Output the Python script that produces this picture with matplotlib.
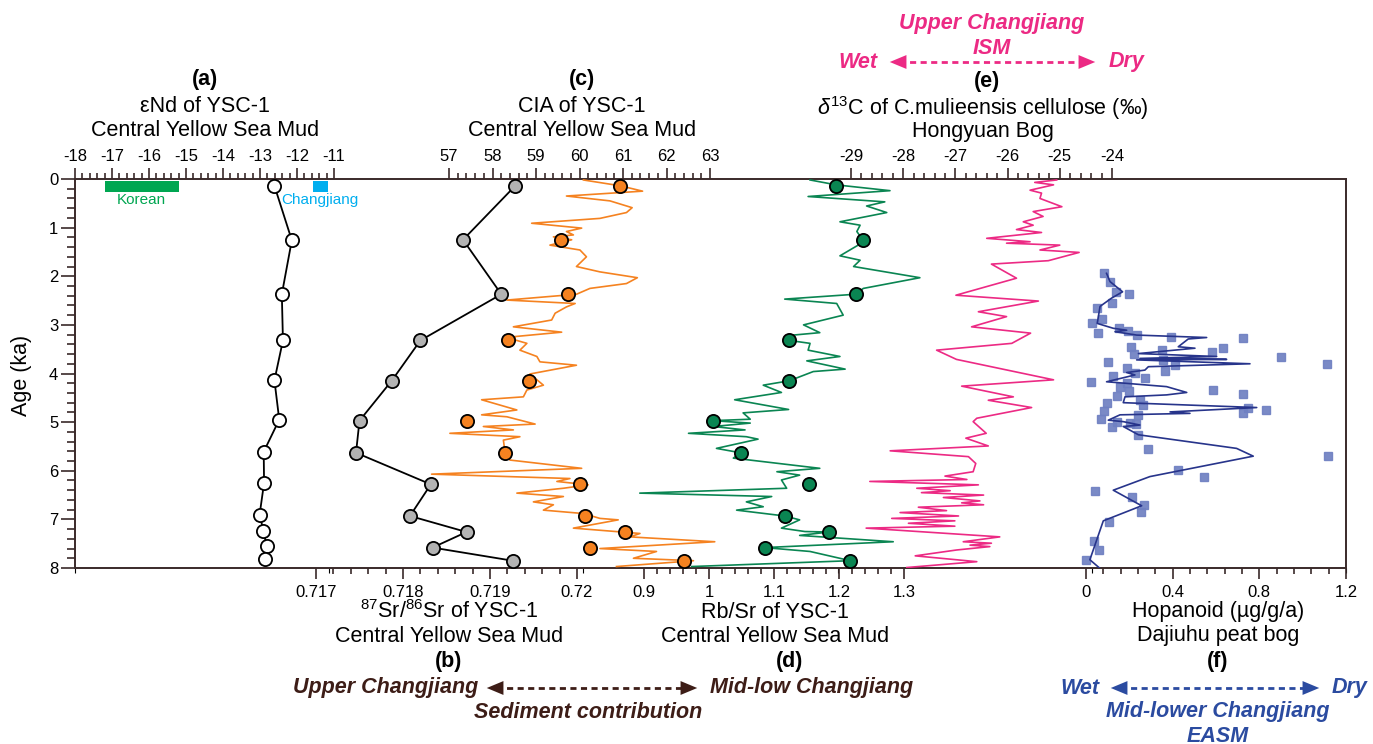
import numpy as np
import matplotlib
matplotlib.use("Agg")
import matplotlib.pyplot as plt
from matplotlib.ticker import FixedLocator
from matplotlib.lines import Line2D
from matplotlib.patches import FancyArrowPatch
from matplotlib import font_manager

# ---------------- data ----------------
# discrete samples of core YSC-1 (age, ka)
sample_age = [0.14, 1.25, 2.37, 3.32, 4.15, 4.97, 5.63, 6.28, 6.93, 7.26, 7.58, 7.85]
end_age = [0.14, 1.26, 2.37, 3.32, 4.14, 4.95, 5.61, 6.25, 6.90, 7.23, 7.55, 7.81]
end_nd = [-12.61, -12.14, -12.41, -12.38, -12.61, -12.48, -12.90, -12.89, -13.01, -12.91, -12.82, -12.86]
sr_ratio = [0.71929, 0.71869, 0.71913, 0.71820, 0.71787, 0.71750, 0.71746, 0.71832, 0.71808, 0.71873, 0.71834, 0.71926]
cia_disc = [60.94, 59.57, 59.74, 58.36, 58.84, 57.42, 58.29, 60.00, 60.13, 61.05, 60.24, 62.41]
rbsr_disc = [1.195, 1.236, 1.225, 1.123, 1.123, 1.005, 1.048, 1.153, 1.116, 1.184, 1.085, 1.217]

# source end-member ranges of eNd
korean_range = [-17.2, -15.2]
changjiang_range = [-11.57, -11.17]

# high-resolution CIA record
cia_age = [0.02, 0.14, 0.25, 0.35, 0.45, 0.59, 0.69, 0.81, 0.91, 1.01, 1.08, 1.15, 1.19, 1.25, 1.36,
           1.46, 1.60, 1.80, 1.91, 2.03, 2.15, 2.25, 2.37, 2.49, 2.56, 2.63, 2.76, 2.90, 3.04, 3.15,
           3.24, 3.31, 3.38, 3.52, 3.65, 3.76, 3.83, 4.01, 4.24, 4.34, 4.48, 4.54, 4.75, 4.85, 4.89,
           5.04, 5.09, 5.16, 5.23, 5.30, 5.37, 5.63, 5.78, 5.95, 6.07, 6.16, 6.22, 6.29, 6.36, 6.46,
           6.53, 6.64, 6.70, 6.81, 6.88, 6.98, 7.01, 7.18, 7.29, 7.36, 7.46, 7.60, 7.66, 7.80, 7.85, 7.97]
cia_val = [60.09, 60.94, 61.45, 59.70, 60.70, 61.21, 61.08, 60.47, 58.90, 60.05, 59.70, 59.86, 59.40, 59.82, 59.32,
           60.01, 60.16, 59.93, 60.47, 61.33, 61.08, 60.24, 59.93, 58.33, 59.90, 59.70, 59.44, 59.36, 58.48, 59.59,
           58.52, 58.52, 58.79, 58.63, 59.02, 59.09, 59.93, 58.86, 59.17, 58.79, 58.71, 57.75, 58.56, 57.75, 58.33,
           58.98, 57.79, 58.48, 57.02, 58.63, 58.25, 58.29, 58.40, 60.05, 56.60, 59.78, 59.48, 60.20, 59.63, 58.56,
           59.63, 58.94, 59.40, 59.17, 60.09, 60.47, 60.89, 59.86, 61.39, 61.16, 63.11, 60.47, 61.77, 61.24, 62.62, 60.85]

# high-resolution Rb/Sr record
rbsr_age = [0.02, 0.12, 0.24, 0.36, 0.47, 0.555, 0.69, 0.88, 0.95, 1.08, 1.25, 1.36, 1.58, 1.67, 1.80,
            2.03, 2.25, 2.37, 2.47, 2.56, 2.80, 3.00, 3.16, 3.21, 3.32, 3.38, 3.52, 3.65, 3.74, 3.91,
            3.96, 4.15, 4.24, 4.39, 4.54, 4.74, 4.81, 4.94, 4.97, 5.02, 5.09, 5.16, 5.23, 5.30, 5.35,
            5.54, 5.63, 5.74, 5.95, 6.02, 6.09, 6.19, 6.36, 6.46, 6.53, 6.64, 6.74, 6.81, 6.93, 7.01,
            7.18, 7.25, 7.26, 7.33, 7.46, 7.58, 7.66, 7.85, 7.97]
rbsr_val = [1.155, 1.195, 1.278, 1.152, 1.270, 1.242, 1.273, 1.201, 1.232, 1.227, 1.236, 1.229, 1.201, 1.232, 1.222,
            1.324, 1.237, 1.225, 1.116, 1.196, 1.206, 1.145, 1.170, 1.129, 1.123, 1.155, 1.152, 1.201, 1.150, 1.209,
            1.160, 1.123, 1.083, 1.111, 1.039, 1.122, 1.052, 1.063, 1.005, 1.063, 1.006, 1.055, 0.968, 1.057, 1.075,
            1.011, 1.048, 1.037, 1.170, 1.104, 1.139, 1.111, 1.119, 0.893, 1.096, 1.057, 1.083, 1.042, 1.116, 1.139,
            1.111, 1.147, 1.184, 1.139, 1.283, 1.085, 1.155, 1.217, 0.973]

# d13C of C. mulieensis cellulose, Hongyuan bog
d13c_age = [0.02, 0.07, 0.12, 0.23, 0.29, 0.40, 0.57, 0.67, 0.77, 0.88, 0.95, 1.04, 1.10, 1.22, 1.29,
            1.32, 1.36, 1.46, 1.51, 1.68, 1.75, 2.04, 2.39, 2.51, 2.73, 2.83, 3.04, 3.17, 3.38, 3.52,
            3.71, 4.13, 4.26, 4.48, 4.55, 4.70, 4.92, 4.99, 5.23, 5.33, 5.49, 5.59, 5.71, 5.85, 6.02,
            6.11, 6.18, 6.22, 6.29, 6.36, 6.41, 6.45, 6.50, 6.55, 6.62, 6.66, 6.70, 6.75, 6.82, 6.86,
            6.93, 6.98, 7.03, 7.08, 7.14, 7.18, 7.36, 7.46, 7.49, 7.53, 7.56, 7.63, 7.75, 7.87, 7.99]
d13c_val = [-25.06, -25.48, -25.12, -25.57, -25.35, -25.38, -24.96, -25.51, -25.32, -25.70, -25.51, -25.83, -25.35, -26.40, -25.57,
            -26.02, -25.00, -25.38, -24.63, -25.22, -26.31, -25.83, -26.99, -25.41, -26.56, -26.02, -26.69, -25.56, -25.92, -27.36,
            -26.98, -25.12, -26.88, -25.89, -26.37, -25.54, -26.59, -26.66, -26.41, -26.80, -26.37, -28.25, -26.75, -26.61, -26.66,
            -27.20, -26.78, -28.64, -26.56, -27.74, -27.10, -27.65, -26.46, -27.23, -26.53, -26.88, -26.46, -27.71, -27.17, -28.06,
            -26.94, -28.22, -27.01, -27.90, -27.01, -28.71, -26.15, -26.85, -26.31, -26.72, -26.34, -26.98, -27.77, -26.59, -27.93]

# Hopanoid flux, Dajiuhu peat bog (smoothed line)
hop_line_age = [1.94, 2.11, 2.32, 2.45, 2.62, 2.97, 3.07, 3.11, 3.14, 3.21, 3.26, 3.29, 3.45, 3.48, 3.59,
                3.65, 3.69, 3.71, 3.72, 3.80, 3.86, 3.93, 3.98, 4.03, 4.17, 4.20, 4.27, 4.39, 4.44, 4.48,
                4.60, 4.70, 4.79, 4.82, 4.85, 4.96, 4.99, 5.06, 5.09, 5.26, 5.54, 5.70, 6.12, 6.40, 6.72,
                7.03, 7.83, 8.01]
hop_line_val = [0.095, 0.111, 0.169, 0.118, 0.065, 0.052, 0.126, 0.188, 0.134, 0.234, 0.557, 0.472, 0.426, 0.503, 0.242,
                0.603, 0.249, 0.649, 0.234, 0.757, 0.288, 0.272, 0.188, 0.226, 0.095, 0.180, 0.372, 0.465, 0.372, 0.180,
                0.172, 0.788, 0.388, 0.480, 0.157, 0.103, 0.172, 0.249, 0.172, 0.242, 0.695, 0.772, 0.295, 0.126, 0.257,
                0.080, 0.018, 0.065]
# Hopanoid flux, individual samples
hop_pt_age = [1.94, 2.11, 2.32, 2.37, 2.54, 2.65, 2.87, 2.97, 3.16, 3.07, 3.12, 3.21, 3.24, 3.28, 3.45,
              3.52, 3.60, 3.55, 3.48, 3.76, 3.72, 3.82, 3.94, 3.67, 3.80, 3.89, 4.00, 4.05, 4.10, 4.17,
              4.20, 4.27, 4.37, 4.33, 4.43, 4.46, 4.60, 4.55, 4.65, 4.70, 4.76, 4.82, 4.78, 4.85, 4.94,
              4.99, 5.01, 5.04, 5.11, 5.26, 5.55, 5.69, 5.98, 6.12, 6.41, 6.55, 6.70, 6.84, 7.05, 7.44,
              7.64, 7.84]
hop_pt_val = [0.085, 0.111, 0.138, 0.200, 0.118, 0.049, 0.075, 0.026, 0.057, 0.154, 0.195, 0.234, 0.391, 0.726, 0.206,
              0.349, 0.222, 0.580, 0.634, 0.100, 0.357, 0.411, 0.365, 0.898, 1.111, 0.188, 0.226, 0.123, 0.272, 0.022,
              0.188, 0.157, 0.200, 0.585, 0.726, 0.145, 0.095, 0.249, 0.262, 0.749, 0.829, 0.723, 0.085, 0.242, 0.069,
              0.142, 0.203, 0.231, 0.118, 0.238, 0.285, 1.115, 0.423, 0.546, 0.042, 0.211, 0.269, 0.254, 0.105, 0.037,
              0.058, 0.000]

# tick labels
age_ticks = [0, 1, 2, 3, 4, 5, 6, 7, 8]
nd_ticks = [-18, -17, -16, -15, -14, -13, -12, -11]
cia_ticks = [57, 58, 59, 60, 61, 62, 63]
d13c_ticks = [-29, -28, -27, -26, -25, -24]
sr_ticks = [0.717, 0.718, 0.719, 0.720]
sr_labels = ["0.717", "0.718", "0.719", "0.72"]
rbsr_ticks = [0.9, 1.0, 1.1, 1.2, 1.3]
rbsr_labels = ["0.9", "1", "1.1", "1.2", "1.3"]
hop_ticks = [0, 0.4, 0.8, 1.2]
hop_labels = ["0", "0.4", "0.8", "1.2"]

# ---------------- style ----------------
avail = {f.name for f in font_manager.fontManager.ttflist}
if 'Liberation Sans Narrow' in avail:
    TFAM = ['Liberation Sans Narrow', 'Liberation Sans', 'DejaVu Sans']
    TSIZE = 18
else:
    TFAM = ['Liberation Sans', 'DejaVu Sans']
    TSIZE = 15.5
plt.rcParams['font.family'] = ['Liberation Sans', 'DejaVu Sans']
plt.rcParams['axes.unicode_minus'] = False
plt.rcParams['mathtext.fontset'] = 'custom'
plt.rcParams['mathtext.rm'] = 'Liberation Sans'
plt.rcParams['mathtext.it'] = 'Liberation Sans:italic'
plt.rcParams['mathtext.bf'] = 'Liberation Sans:bold'

FRAME = '#3a2a2a'
ORANGE = '#f58220'
GREEN = '#0a8552'
PINK = '#ec2a84'
NAVY = '#27348b'
SQUARE = '#6f80c2'
BROWN = '#3d1d17'
BLUE = '#2b4ba0'
KOREAN = '#00a651'
CJ = '#00aeef'
LW = 1.2

W, H = 1373, 744
fig = plt.figure(figsize=(W / 100, H / 100), dpi=100)
L, R, T, B = 75, 1346, 179, 568
ax = fig.add_axes([L / W, 1 - B / H, (R - L) / W, (B - T) / H])
ax.set_ylim(8, 0)
ax.set_xlim(0, 1)
ax.set_yticks(age_ticks)
ax.yaxis.set_minor_locator(FixedLocator(np.arange(0, 8.01, 0.2)))
ax.tick_params(axis='y', which='major', direction='out', length=10, width=1.2, color=FRAME, labelsize=12, pad=2)
ax.tick_params(axis='y', which='minor', direction='out', length=6, width=1.2, color=FRAME)
ax.tick_params(axis='x', which='both', bottom=False, top=False, labelbottom=False, labeltop=False)
for s in ax.spines.values():
    s.set_color(FRAME)
    s.set_linewidth(1.4)


def make_twin(v0, px0, px_per_unit, side, major, labels, minor_step):
    tw = ax.twiny()
    left = v0 - (px0 - L) / px_per_unit
    tw.set_xlim(left, left + (R - L) / px_per_unit)
    tw.patch.set_visible(False)
    for s in tw.spines.values():
        s.set_visible(False)
    tw.xaxis.set_ticks_position(side)
    tw.xaxis.set_label_position(side)
    tw.set_xticks(major)
    tw.set_xticklabels(labels)
    tw.xaxis.set_minor_locator(FixedLocator(np.arange(major[0], major[-1] + minor_step / 2, minor_step)))
    tw.tick_params(axis='x', which='major', direction='out', length=8, width=1.2, color=FRAME,
                   labelsize=12, pad=3 if side == 'top' else 4)
    tw.tick_params(axis='x', which='minor', direction='out', length=4.5, width=1.2, color=FRAME)
    return tw


tw_e = make_twin(-29, 851, 52.2, 'top', d13c_ticks, [str(v) for v in d13c_ticks], 0.2)
tw_d = make_twin(0.9, 644.3, 650, 'bottom', rbsr_ticks, rbsr_labels, 0.02)
tw_c = make_twin(57, 449, 43.5, 'top', cia_ticks, [str(v) for v in cia_ticks], 0.2)
tw_b = make_twin(0.717, 316, 87000, 'bottom', sr_ticks, sr_labels, 0.0002)
tw_a = make_twin(-18, 75, 37, 'top', nd_ticks, [str(v) for v in nd_ticks], 0.2)
tw_f = make_twin(0, 1086, 216.7, 'bottom', hop_ticks, hop_labels, 0.08)

CIRC = dict(marker='o', ms=9.5, mec='black', mew=1.3)

# (e) d13C
tw_e.plot(d13c_val, d13c_age, color=PINK, lw=LW)
# (d) Rb/Sr
tw_d.plot(rbsr_val, rbsr_age, color=GREEN, lw=LW)
tw_d.plot(rbsr_disc, sample_age, ls='none', mfc=GREEN, zorder=5, **CIRC)
# (c) CIA
tw_c.plot(cia_val, cia_age, color=ORANGE, lw=LW)
tw_c.plot(cia_disc, sample_age, ls='none', mfc=ORANGE, zorder=5, **CIRC)
# (b) Sr isotopes
tw_b.plot(sr_ratio, sample_age, color='black', lw=1.3, mfc='#b3b3b3', zorder=5, **CIRC)
# (a) eNd
tw_a.plot(end_nd, end_age, color='black', lw=1.3, mfc='white', zorder=5, **CIRC)
tw_a.barh(0.155, korean_range[1] - korean_range[0], left=korean_range[0], height=0.22, color=KOREAN)
tw_a.barh(0.155, changjiang_range[1] - changjiang_range[0], left=changjiang_range[0], height=0.22, color=CJ)
tw_a.text(np.mean(korean_range), 0.43, 'Korean', color=KOREAN, fontsize=11, ha='center', va='center')
tw_a.text(np.mean(changjiang_range), 0.43, 'Changjiang', color=CJ, fontsize=11, ha='center', va='center')
# (f) Hopanoid
tw_f.plot(hop_pt_val, hop_pt_age, ls='none', marker='s', ms=6.3, color=SQUARE, alpha=0.92, clip_on=False)
tw_f.plot(hop_line_val, hop_line_age, color=NAVY, lw=LW)


# ---------------- annotations ----------------
def ftext(x, y, s, **kw):
    kw.setdefault('ha', 'center')
    kw.setdefault('va', 'center')
    kw.setdefault('family', TFAM)
    kw.setdefault('fontsize', TSIZE)
    fig.text(x / W, 1 - y / H, s, **kw)


def darrow(x1, x2, y, color):
    yf = 1 - y / H
    fig.add_artist(Line2D([(x1 + 12) / W, (x2 - 12) / W], [yf, yf], transform=fig.transFigure,
                          color=color, lw=2.0, ls=(0, (2.2, 1.6))))
    for xs, xe in ((x1 + 18, x1), (x2 - 18, x2)):
        fig.add_artist(FancyArrowPatch((xs / W, yf), (xe / W, yf), transform=fig.transFigure,
                                       arrowstyle='-|>,head_length=1.2,head_width=0.5',
                                       mutation_scale=10, color=color, lw=0))


ftext(22, 375, 'Age (ka)', rotation=90)

ftext(205, 79, '(a)', fontweight='bold')
ftext(205, 106, 'εNd of YSC-1')
ftext(205, 131, 'Central Yellow Sea Mud')
ftext(582, 79, '(c)', fontweight='bold')
ftext(582, 106, 'CIA of YSC-1')
ftext(582, 131, 'Central Yellow Sea Mud')
ftext(987, 82, '(e)', fontweight='bold')
ftext(983, 108, r'$\delta^{13}$C of C.mulieensis cellulose (‰)')
ftext(983, 131, 'Hongyuan Bog')

ftext(992, 24, 'Upper Changjiang', color=PINK, fontweight='bold', style='italic')
ftext(992, 49, 'ISM', color=PINK, fontweight='bold', style='italic')
ftext(877, 62, 'Wet', color=PINK, fontweight='bold', style='italic', ha='right')
ftext(1109, 62, 'Dry', color=PINK, fontweight='bold', style='italic', ha='left')
darrow(887, 1098, 62, PINK)

ftext(449, 612, r'$^{87}$Sr/$^{86}$Sr of YSC-1')
ftext(449, 636, 'Central Yellow Sea Mud')
ftext(449, 661, '(b)', fontweight='bold')
ftext(775, 612, 'Rb/Sr of YSC-1')
ftext(775, 636, 'Central Yellow Sea Mud')
ftext(790, 661, '(d)', fontweight='bold')
ftext(1218, 612, 'Hopanoid (µg/g/a)')
ftext(1218, 636, 'Dajiuhu peat bog')
ftext(1218, 661, '(f)', fontweight='bold')

ftext(478, 688, 'Upper Changjiang', color=BROWN, fontweight='bold', style='italic', ha='right')
ftext(710, 688, 'Mid-low Changjiang', color=BROWN, fontweight='bold', style='italic', ha='left')
darrow(484, 700, 688, BROWN)
ftext(588, 712, 'Sediment contribution', color=BROWN, fontweight='bold', style='italic')

ftext(1099, 688, 'Wet', color=BLUE, fontweight='bold', style='italic', ha='right')
ftext(1332, 688, 'Dry', color=BLUE, fontweight='bold', style='italic', ha='left')
darrow(1108, 1322, 688, BLUE)
ftext(1218, 712, 'Mid-lower Changjiang', color=BLUE, fontweight='bold', style='italic')
ftext(1218, 736, 'EASM', color=BLUE, fontweight='bold', style='italic')

fig.savefig('out.png', dpi=100)
